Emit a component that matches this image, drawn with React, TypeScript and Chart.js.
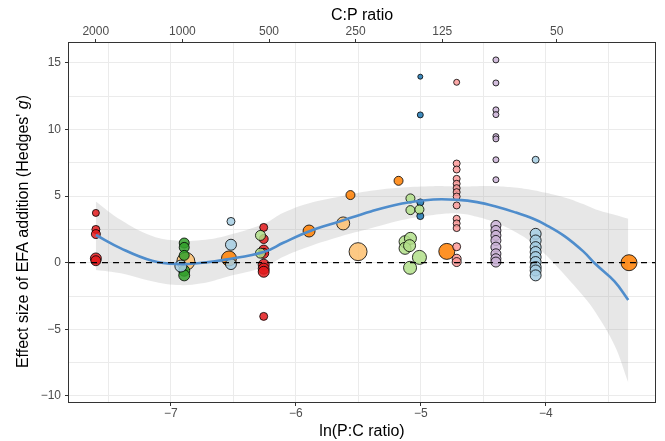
import React, { useEffect, useRef } from "react";
import { Chart, registerables } from "chart.js";
Chart.register(...registerables);

const FONT = "'Liberation Sans', Arial, Helvetica, sans-serif";

// ---- axes ----
const xMin = -7.815;
const xMax = -3.126;
const yMin = -10.46;
const yMax = 16.5;
const xGrid = [-7.5, -7, -6.5, -6, -5.5, -5, -4.5, -4, -3.5];
const xLabeled = [-7, -6, -5, -4];
const yGrid = [-10, -7.5, -5, -2.5, 0, 2.5, 5, 7.5, 10, 12.5, 15];
const yLabeled = [-10, -5, 0, 5, 10, 15];
const cpTicks = [2000, 1000, 500, 250, 125, 50];

// ---- smoother ----
const fitX = [-7.6, -7.4, -7.15, -6.95, -6.75, -6.55, -6.25, -6.1, -5.9, -5.65, -5.4, -5.15, -4.9, -4.7, -4.55, -4.4, -4.25, -4.1, -4.0, -3.85, -3.7, -3.6, -3.45, -3.34];
const fitY = [2.08, 1.08, 0.15, -0.1, 0.0, 0.25, 0.83, 1.5, 2.33, 3.1, 3.85, 4.45, 4.75, 4.72, 4.55, 4.22, 3.8, 3.3, 2.85, 2.0, 0.85, -0.12, -1.4, -2.8];
const fitUpper = [4.6, 3.2, 2.0, 1.65, 1.7, 2.05, 2.95, 3.75, 4.45, 4.95, 5.4, 5.65, 5.75, 5.72, 5.75, 5.75, 5.65, 5.45, 5.25, 4.9, 4.4, 4.0, 3.6, 3.3];
const fitLower = [-0.55, -0.8, -1.4, -1.68, -1.55, -1.05, -0.3, 0.45, 1.2, 1.95, 2.58, 3.2, 3.58, 3.7, 3.45, 3.0, 2.35, 1.45, 0.6, -0.9, -2.5, -3.75, -6.2, -9.0];

// ---- points: x = ln(P:C), y = Hedges' g, r = point size ----
const redX = [-7.6, -7.6, -7.6, -7.6, -7.6, -6.257, -6.257, -6.257, -6.257, -6.257, -6.257, -6.257, -6.257];
const redY = [3.74, 2.5, 2.15, 0.32, 0.15, 2.65, 1.78, 0.95, 0.7, -0.15, -0.45, -0.68, -4.03];
const redR = [3.5, 4, 4.5, 5.5, 5, 4, 4.5, 5, 5, 5.5, 5.5, 5.5, 4];

const darkGreenX = [-6.893, -6.893, -6.893, -6.893, -6.893];
const darkGreenY = [1.48, 1.15, 0.55, -0.6, -0.95];
const darkGreenR = [5, 5, 5, 5.5, 5.5];

const lightGreenX = [-6.283, -6.283, -5.083, -5.083, -5.011, -5.126, -5.083, -5.126, -5.09, -5.011, -5.086];
const lightGreenY = [2.05, 0.72, 4.83, 3.95, 4.0, 1.58, 1.83, 1.08, 1.28, 0.4, -0.38];
const lightGreenR = [5, 5, 4.5, 4.5, 4.5, 6, 6, 6, 6, 7, 6.5];

const lightBlueX = [-6.92, -6.519, -6.519, -6.519, -4.081, -4.081, -4.081, -4.081, -4.081, -4.081, -4.081, -4.081, -4.081, -4.081];
const lightBlueY = [-0.25, 3.1, 1.35, -0.1, 7.73, 2.17, 1.67, 1.17, 0.8, 0.42, 0.05, -0.33, -0.58, -0.95];
const lightBlueR = [6, 4, 5.5, 5.5, 3.5, 5.5, 5.5, 5.5, 5.5, 5.5, 5.5, 5.5, 5.5, 5.5];

const darkBlueX = [-5.004, -5.004, -5.004, -5.004];
const darkBlueY = [13.97, 11.1, 4.53, 3.5];
const darkBlueR = [2.5, 3, 3.5, 3.5];

const orangeX = [-6.535, -5.894, -5.563, -5.178, -4.792, -3.334];
const orangeY = [0.32, 2.38, 5.08, 6.15, 0.85, 0.0];
const orangeR = [7.5, 6, 4.5, 4.5, 8, 8];

const lightOrangeX = [-6.88, -5.621, -5.502];
const lightOrangeY = [0.1, 2.95, 0.83];
const lightOrangeR = [9, 6.5, 9];

const pinkX = [-4.713, -4.713, -4.713, -4.713, -4.713, -4.713, -4.713, -4.713, -4.713, -4.713, -4.713, -4.713, -4.713, -4.713, -4.713];
const pinkY = [13.55, 7.45, 7.0, 6.3, 5.93, 5.6, 5.3, 4.97, 4.3, 3.3, 2.95, 2.6, 1.2, 0.3, 0.05];
const pinkR = [3, 3.5, 3.5, 3.5, 3.5, 3.5, 3.5, 3.5, 3.5, 3.5, 3.5, 3.5, 4, 4.5, 4.5];

const purpleX = [-4.399, -4.399, -4.399, -4.399, -4.399, -4.399, -4.399, -4.399, -4.399, -4.399, -4.399, -4.399, -4.399, -4.399, -4.399, -4.399];
const purpleY = [15.23, 13.5, 11.48, 11.12, 9.47, 9.3, 7.73, 6.23, 2.8, 2.42, 2.05, 1.67, 1.17, 0.67, 0.3, 0.05];
const purpleR = [3, 3, 3, 3, 3, 3, 3, 3, 5, 5, 5, 5, 5, 5, 5, 5];

const groups = [
  { color: "rgba(202,178,214,0.85)", x: purpleX, y: purpleY, r: purpleR },
  { color: "rgba(251,154,153,0.85)", x: pinkX, y: pinkY, r: pinkR },
  { color: "rgba(166,206,227,0.85)", x: lightBlueX, y: lightBlueY, r: lightBlueR },
  { color: "rgba(178,223,138,0.85)", x: lightGreenX, y: lightGreenY, r: lightGreenR },
  { color: "rgba(51,160,44,0.85)", x: darkGreenX, y: darkGreenY, r: darkGreenR },
  { color: "rgba(227,26,28,0.85)", x: redX, y: redY, r: redR },
  { color: "rgba(31,120,180,0.85)", x: darkBlueX, y: darkBlueY, r: darkBlueR },
  { color: "rgba(253,191,111,0.85)", x: lightOrangeX, y: lightOrangeY, r: lightOrangeR },
  { color: "rgba(255,127,0,0.85)", x: orangeX, y: orangeY, r: orangeR },
];

const fmt = (v: number) => (v < 0 ? "\u2212" + Math.abs(v) : String(v));

const framePlugin = {
  id: "frame",
  afterDraw(chart: any) {
    const { ctx, chartArea } = chart;
    const { left, top, right, bottom } = chartArea;
    ctx.save();
    ctx.strokeStyle = "#333333";
    ctx.lineWidth = 1;
    ctx.strokeRect(Math.round(left) - 0.5, Math.round(top) - 0.5, Math.round(right - left) + 1, Math.round(bottom - top) + 1);
    // y title with italic g
    const cy = (top + bottom) / 2 + 9;
    ctx.translate(24, cy);
    ctx.rotate(-Math.PI / 2);
    ctx.fillStyle = "#000";
    ctx.textBaseline = "middle";
    const p1 = "Effect size of EFA addition (Hedges' ";
    const p2 = "g";
    const p3 = ")";
    const nf = "16px " + FONT;
    const itf = "italic 16px " + FONT;
    ctx.font = nf;
    const w1 = ctx.measureText(p1).width;
    const w3 = ctx.measureText(p3).width;
    ctx.font = itf;
    const w2 = ctx.measureText(p2).width;
    const x0 = -(w1 + w2 + w3) / 2;
    ctx.textAlign = "left";
    ctx.font = nf;
    ctx.fillText(p1, x0, 0);
    ctx.font = itf;
    ctx.fillText(p2, x0 + w1, 0);
    ctx.font = nf;
    ctx.fillText(p3, x0 + w1 + w2, 0);
    ctx.restore();
  },
};

export default function App() {
  const ref = useRef<HTMLCanvasElement | null>(null);
  useEffect(() => {
    if (!ref.current) return;
    const toPts = (xs: number[], ys: number[]) => xs.map((x, i) => ({ x, y: ys[i] }));
    const datasets: any[] = [];
    datasets.push({
      type: "line",
      data: toPts(fitX, fitUpper),
      borderColor: "rgba(0,0,0,0)",
      borderWidth: 0,
      pointRadius: 0,
      tension: 0.4,
      fill: "+1",
      backgroundColor: "rgba(160,160,160,0.25)",
      order: 20,
    });
    datasets.push({
      type: "line",
      data: toPts(fitX, fitLower),
      borderColor: "rgba(0,0,0,0)",
      borderWidth: 0,
      pointRadius: 0,
      tension: 0.4,
      fill: false,
      order: 21,
    });
    groups.forEach((g, gi) => {
      datasets.push({
        type: "bubble",
        data: g.x.map((x, i) => ({ x, y: g.y[i], r: g.r[i] })),
        backgroundColor: g.color,
        borderColor: "rgba(0,0,0,0.8)",
        borderWidth: 1,
        order: 5 + gi * 0.01,
      });
    });
    datasets.push({
      type: "line",
      data: toPts(fitX, fitY),
      borderColor: "#4f8dcc",
      borderWidth: 2.6,
      pointRadius: 0,
      tension: 0.4,
      fill: false,
      order: 2,
    });
    datasets.push({
      type: "line",
      data: [
        { x: xMin, y: 0 },
        { x: xMax, y: 0 },
      ],
      borderColor: "#000",
      borderWidth: 1.3,
      borderDash: [6, 5],
      pointRadius: 0,
      fill: false,
      order: 1,
    });

    const tickFont = { family: FONT, size: 12 };
    const titleFont = { family: FONT, size: 16 };
    const chart = new Chart(ref.current, {
      type: "bubble",
      data: { datasets },
      options: {
        animation: false,
        responsive: false,
        devicePixelRatio: 1,
        events: [],
        layout: { padding: { left: 0, right: 6, top: 0, bottom: 0 } },
        plugins: { legend: { display: false }, tooltip: { enabled: false } },
        scales: {
          x: {
            type: "linear",
            position: "bottom",
            min: xMin,
            max: xMax,
            afterBuildTicks: (s: any) => {
              s.ticks = xGrid.map((v) => ({ value: v }));
            },
            afterFit: (s: any) => {
              s.height = 39;
            },
            ticks: {
              autoSkip: false,
              maxRotation: 0,
              padding: 0,
              color: "#4d4d4d",
              font: tickFont,
              callback: (v: any) => (xLabeled.includes(v) ? fmt(v) : ""),
            },
            grid: {
              color: "#ebebeb",
              lineWidth: 1,
              tickLength: 4,
              tickColor: (c: any) => (c.tick && xLabeled.includes(c.tick.value) ? "#333333" : "rgba(0,0,0,0)"),
            },
            border: { display: false },
            title: { display: true, text: "ln(P:C ratio)", color: "#000", font: titleFont, padding: { top: 0, bottom: 0 } },
          },
          x2: {
            type: "linear",
            position: "top",
            min: xMin,
            max: xMax,
            afterBuildTicks: (s: any) => {
              s.ticks = cpTicks.map((c) => ({ value: -Math.log(c) }));
            },
            afterFit: (s: any) => {
              s.height = 43;
            },
            ticks: {
              autoSkip: false,
              maxRotation: 0,
              padding: 0,
              color: "#4d4d4d",
              font: tickFont,
              callback: (_v: any, i: number) => String(cpTicks[i]),
            },
            grid: { drawOnChartArea: false, tickLength: 4, tickColor: "#333333" },
            border: { display: false },
            title: { display: true, text: "C:P ratio", color: "#000", font: titleFont, padding: { top: 6, bottom: 0 } },
          },
          y: {
            type: "linear",
            position: "left",
            min: yMin,
            max: yMax,
            afterBuildTicks: (s: any) => {
              s.ticks = yGrid.map((v) => ({ value: v }));
            },
            afterFit: (s: any) => {
              s.width = 69;
            },
            ticks: {
              autoSkip: false,
              padding: 4,
              color: "#4d4d4d",
              font: tickFont,
              callback: (v: any) => (yLabeled.includes(v) ? fmt(v) : ""),
            },
            grid: {
              color: "#ebebeb",
              lineWidth: 1,
              tickLength: 4,
              tickColor: (c: any) => (c.tick && yLabeled.includes(c.tick.value) ? "#333333" : "rgba(0,0,0,0)"),
            },
            border: { display: false },
          },
        },
      } as any,
      plugins: [framePlugin],
    });
    return () => chart.destroy();
  }, []);
  return (
    <div style={{ position: "fixed", left: 0, top: 0, width: 665, height: 441, background: "#fff" }}>
      <canvas ref={ref} width={665} height={441} style={{ display: "block" }} />
    </div>
  );
}
